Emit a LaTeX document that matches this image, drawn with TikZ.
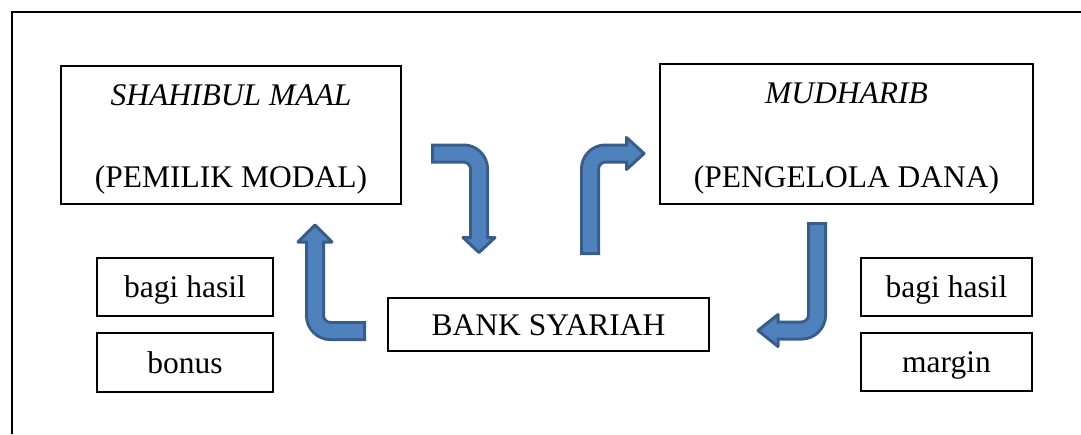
\documentclass[tikz,border=0pt]{standalone}
\usepackage{fontspec}
\setmainfont{Liberation Serif}
\definecolor{arrowfill}{HTML}{4F81BD}
\definecolor{arrowline}{HTML}{385D8A}
\tikzset{
  frame/.style={draw=black, line width=1.2pt},
  box/.style={draw=black, line width=1.2pt, inner sep=0pt,
    font=\fontsize{31.5}{36}\selectfont, text height=23pt, text depth=2pt},
  txt/.style={font=\fontsize{31.5}{36}\selectfont, inner sep=0pt, anchor=base},
  shaftout/.style={draw=arrowline, line width=20pt, rounded corners=15.5pt},
  shaftin/.style={draw=arrowfill, line width=14pt, rounded corners=15.5pt},
  head/.style={fill=arrowfill, draw=arrowline, line width=3pt, line join=round},
}
\begin{document}
\begin{tikzpicture}[x=1pt,y=-1pt]
\useasboundingbox (0,0) rectangle (1081,434);
\draw[frame] (1081,12) -- (12,12) -- (12,434);

% parties
\node[draw=black, line width=1.2pt, minimum width=340pt, minimum height=138pt] (sm) at (231,135) {};
\node[txt] (smname) at (231,105) {\itshape SHAHIBUL MAAL};
\node[txt] (smrole) at (231,187) {(PEMILIK MODAL)};

\node[draw=black, line width=1.2pt, minimum width=373pt, minimum height=140pt] (mu) at (846.5,134) {};
\node[txt] (muname) at (846.5,103) {\itshape MUDHARIB};
\node[txt] (murole) at (846.5,187) {(PENGELOLA DANA)};

\node[box, minimum width=321pt, minimum height=53pt] (bank) at (548.5,324.5) {BANK SYARIAH};

% returns
\node[box, minimum width=176pt, minimum height=58pt] (lbagi) at (185,287) {bagi hasil};
\node[box, minimum width=176pt, minimum height=59pt] (lbonus) at (185,362.5) {bonus};
\node[box, minimum width=171pt, minimum height=58pt] (rbagi) at (946.5,287) {bagi hasil};
\node[box, minimum width=171pt, minimum height=58pt] (rmargin) at (946.5,362) {margin};

% bent arrows (yshift acts on the page, so +y points up here)
% owner -> bank
\coordinate (a1s) at (431,153.5);
\coordinate (a1b) at (479,153.5);
\coordinate (a1e) at (479,238);
\draw[shaftout] (a1s) -- (a1b) -- (a1e);
\filldraw[head] (463,237.5) -- (495,237.5) -- (479,252.5) -- cycle;
\draw[shaftin] ([xshift=3pt]a1s) -- (a1b) -- ([yshift=-3pt]a1e);

% bank -> manager
\coordinate (a2s) at (590,255);
\coordinate (a2b) at (590,153.5);
\coordinate (a2e) at (627,153.5);
\draw[shaftout] (a2s) -- (a2b) -- (a2e);
\filldraw[head] (626.5,137.5) -- (626.5,169.5) -- (644,153.5) -- cycle;
\draw[shaftin] ([yshift=3pt]a2s) -- (a2b) -- ([xshift=2pt]a2e);

% bank -> owner
\coordinate (a3s) at (366,331);
\coordinate (a3b) at (315,331);
\coordinate (a3e) at (315,242);
\draw[shaftout] (a3s) -- (a3b) -- (a3e);
\filldraw[head] (298,242) -- (332,242) -- (315,225) -- cycle;
\draw[shaftin] ([xshift=-3pt]a3s) -- (a3b) -- ([yshift=2pt]a3e);

% manager -> bank
\coordinate (a4s) at (817,222);
\coordinate (a4b) at (817,330.5);
\coordinate (a4e) at (777,330.5);
\draw[shaftout] (a4s) -- (a4b) -- (a4e);
\filldraw[head] (778,314.5) -- (778,346.5) -- (758,330.5) -- cycle;
\draw[shaftin] ([yshift=-3pt]a4s) -- (a4b) -- ([xshift=-2pt]a4e);
\end{tikzpicture}
\end{document}
